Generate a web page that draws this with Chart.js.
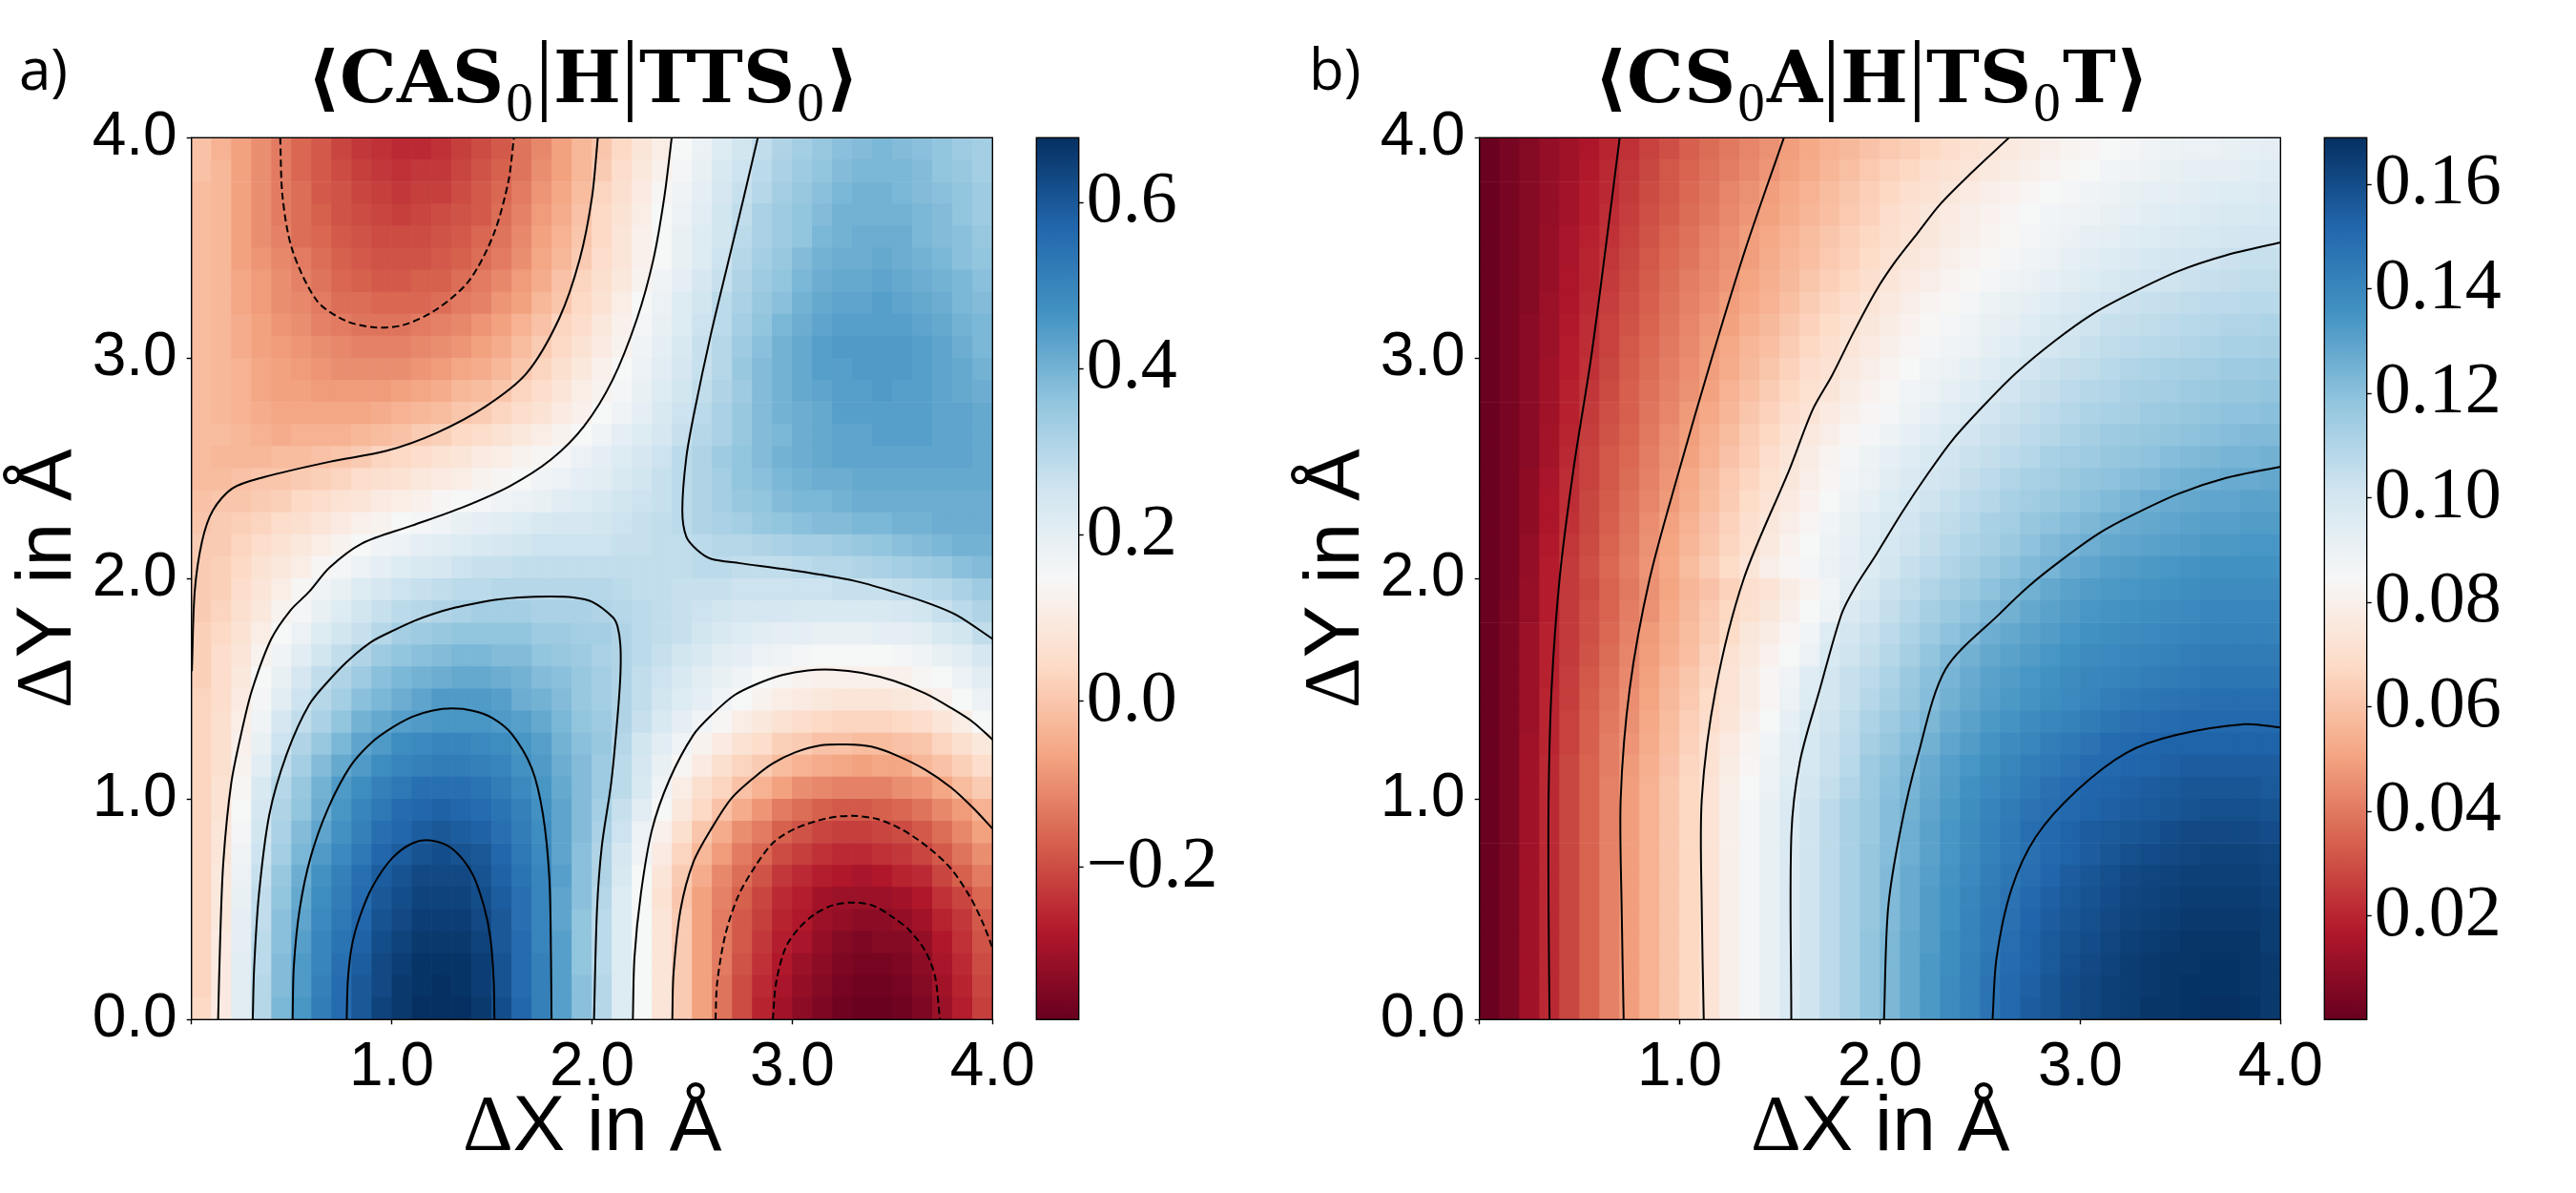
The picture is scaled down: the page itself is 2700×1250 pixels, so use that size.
<!DOCTYPE html>
<html><head><meta charset="utf-8">
<script src="https://cdn.jsdelivr.net/npm/chart.js@4"></script>
<style>
@font-face{font-family:DeltaSerif;src:local("Liberation Serif");unicode-range:U+0394;}
@font-face{font-family:TitleMix;font-weight:bold;src:local("DejaVu Serif Bold");}
@font-face{font-family:TitleMix;font-weight:bold;src:local("Liberation Serif");unicode-range:U+2080;size-adjust:127%;}
@font-face{font-family:TitleMix;font-weight:bold;src:local("Liberation Serif");unicode-range:U+7C;size-adjust:125%;}
@font-face{font-family:TitleMix;font-weight:bold;src:local("DejaVu Sans ExtraLight"),local("DejaVu Sans");unicode-range:U+27E8-27E9;size-adjust:105%;}
html,body{margin:0;padding:0;background:#fff;width:2700px;height:1250px;overflow:hidden}
canvas{position:absolute;top:0}
.tag{position:absolute;font-family:"Open Sans";font-size:60px;line-height:60px;color:#000}
</style></head><body>
<div class="tag" style="left:20px;top:41px">a)</div>
<div class="tag" style="left:1372px;top:41px">b)</div>
<canvas id="a" width="1350" height="1250" style="left:0"></canvas>
<canvas id="ca" width="290" height="1250" style="left:1060px"></canvas>
<canvas id="b" width="1350" height="1250" style="left:1350px"></canvas>
<canvas id="cb" width="290" height="1250" style="left:2410px"></canvas>
<script>
const titleA='⟨CAS₀|H|TTS₀⟩\u2005', titleB='⟨CS₀A|H|TS₀T⟩\u2005';
const xAxisLabel='ΔX in Å', yAxisLabel='ΔY in Å';
const xTickLabels=['','1.0','2.0','3.0','4.0'];
const yTickLabels=['0.0','1.0','2.0','3.0','4.0'];
const cbTicksA=[-0.2,0,0.2,0.4,0.6], cbLabelsA=['−0.2','0.0','0.2','0.4','0.6'];
const cbTicksB=[0.02,0.04,0.06,0.08,0.10,0.12,0.14,0.16], cbLabelsB=['0.02','0.04','0.06','0.08','0.10','0.12','0.14','0.16'];
const rangeA=[-0.383,0.678], rangeB=[0.0002,0.1689];
const RdBu=['#67001f','#b2182b','#d6604d','#f4a582','#fddbc7','#f7f7f7','#d1e5f0','#92c5de','#4393c3','#2166ac','#053061'];
const xCenters=[.05,.15,.25,.35,.45,.55,.65,.75,.85,.95,1.05,1.15,1.25,1.35,1.45,1.55,1.65,1.75,1.85,1.95,2.05,2.15,2.25,2.35,2.45,2.55,2.65,2.75,2.85,2.95,3.05,3.15,3.25,3.35,3.45,3.55,3.65,3.75,3.85,3.95];
const yEdges=[0,.1,.2,.3,.4,.5,.6,.7,.8,.9,1,1.1,1.2,1.3,1.4,1.5,1.6,1.7,1.8,1.9,2,2.1,2.2,2.3,2.4,2.5,2.6,2.7,2.8,2.9,3,3.1,3.2,3.3,3.4,3.5,3.6,3.7,3.8,3.9,4];
// panel a cell values, bottom row first
const gridA=[
[.04,.10,.21,.30,.39,.46,.52,.56,.60,.64,.66,.68,.68,.68,.66,.62,.57,.51,.44,.37,.30,.22,.15,.08,.01,-.07,-.14,-.20,-.26,-.30,-.33,-.35,-.37,-.38,-.38,-.37,-.35,-.31,-.27,-.22],
[.03,.10,.21,.30,.38,.45,.51,.56,.60,.63,.66,.67,.68,.67,.65,.61,.56,.51,.44,.37,.30,.22,.15,.08,.01,-.07,-.14,-.20,-.25,-.29,-.32,-.34,-.36,-.37,-.37,-.36,-.34,-.30,-.26,-.21],
[.03,.10,.21,.29,.38,.45,.50,.55,.59,.63,.65,.67,.67,.67,.65,.61,.56,.51,.44,.36,.29,.22,.15,.08,.01,-.07,-.13,-.19,-.24,-.28,-.31,-.33,-.35,-.36,-.36,-.35,-.33,-.29,-.25,-.20],
[.03,.10,.20,.29,.37,.44,.50,.54,.58,.62,.64,.66,.66,.66,.64,.60,.56,.50,.44,.36,.29,.22,.15,.08,.01,-.07,-.13,-.18,-.23,-.27,-.29,-.32,-.34,-.35,-.34,-.34,-.32,-.28,-.24,-.19],
[.03,.09,.20,.28,.37,.43,.49,.53,.57,.61,.63,.65,.65,.65,.63,.60,.55,.50,.43,.36,.29,.22,.15,.08,.01,-.07,-.13,-.18,-.22,-.26,-.28,-.31,-.32,-.33,-.33,-.32,-.30,-.26,-.23,-.18],
[.03,.09,.19,.28,.36,.42,.48,.52,.56,.60,.62,.64,.64,.64,.62,.59,.55,.50,.43,.37,.30,.22,.15,.07,.00,-.07,-.12,-.17,-.21,-.25,-.27,-.30,-.31,-.31,-.31,-.30,-.28,-.24,-.21,-.16],
[.03,.09,.18,.27,.35,.41,.47,.51,.55,.59,.61,.63,.63,.63,.61,.58,.54,.50,.44,.37,.31,.23,.15,.08,.01,-.05,-.11,-.15,-.19,-.23,-.25,-.27,-.28,-.29,-.28,-.26,-.25,-.21,-.17,-.13],
[.03,.08,.17,.26,.33,.39,.45,.49,.53,.57,.59,.61,.62,.61,.60,.57,.53,.49,.43,.37,.31,.24,.17,.10,.03,-.03,-.08,-.13,-.16,-.20,-.22,-.24,-.25,-.25,-.24,-.23,-.21,-.18,-.14,-.10],
[.03,.08,.16,.25,.32,.38,.43,.47,.51,.55,.57,.59,.60,.59,.58,.55,.52,.48,.43,.38,.32,.26,.18,.12,.06,.00,-.05,-.10,-.13,-.17,-.19,-.21,-.22,-.22,-.21,-.20,-.18,-.15,-.11,-.07],
[.03,.07,.15,.24,.31,.36,.41,.46,.50,.53,.56,.57,.58,.57,.56,.54,.51,.47,.43,.38,.33,.27,.21,.15,.09,.04,-.01,-.05,-.09,-.13,-.15,-.17,-.18,-.18,-.17,-.16,-.14,-.11,-.08,-.04],
[.03,.07,.14,.23,.30,.35,.40,.45,.48,.51,.53,.55,.55,.55,.54,.52,.49,.46,.42,.38,.34,.29,.23,.17,.11,.06,.03,-.01,-.04,-.07,-.10,-.11,-.12,-.12,-.12,-.10,-.09,-.06,-.02,.01],
[.03,.06,.13,.21,.28,.33,.38,.42,.45,.48,.50,.51,.52,.52,.51,.50,.47,.45,.41,.38,.34,.29,.24,.19,.14,.10,.06,.03,.01,-.02,-.04,-.05,-.06,-.07,-.06,-.06,-.03,-.01,.02,.05],
[.03,.06,.12,.19,.26,.31,.35,.39,.43,.45,.48,.49,.50,.50,.49,.48,.46,.44,.40,.37,.35,.30,.25,.21,.17,.13,.10,.07,.05,.02,.01,-.01,-.01,-.02,-.02,-.01,.00,.03,.06,.09],
[.03,.06,.11,.17,.24,.28,.32,.36,.40,.42,.44,.45,.46,.46,.46,.45,.44,.42,.39,.36,.34,.31,.27,.23,.20,.17,.14,.11,.09,.07,.05,.04,.03,.03,.03,.04,.05,.08,.11,.15],
[.03,.05,.10,.16,.21,.26,.30,.33,.37,.39,.41,.43,.45,.45,.45,.44,.41,.40,.38,.35,.33,.31,.28,.25,.22,.20,.17,.15,.13,.11,.10,.09,.08,.08,.08,.09,.10,.12,.15,.18],
[.02,.05,.09,.15,.19,.24,.28,.31,.34,.37,.39,.40,.41,.42,.42,.41,.40,.38,.37,.35,.33,.31,.28,.26,.23,.21,.19,.17,.15,.14,.13,.12,.12,.12,.12,.12,.14,.15,.18,.21],
[.02,.05,.08,.13,.17,.21,.25,.28,.31,.34,.36,.37,.38,.39,.39,.38,.38,.36,.35,.34,.32,.31,.29,.27,.25,.23,.21,.20,.18,.17,.16,.15,.15,.15,.15,.16,.17,.19,.21,.24],
[.02,.04,.07,.11,.15,.18,.22,.25,.27,.30,.33,.34,.35,.36,.36,.36,.36,.34,.34,.33,.33,.31,.29,.28,.27,.25,.23,.22,.21,.20,.20,.19,.19,.19,.20,.20,.21,.23,.25,.28],
[.01,.03,.06,.09,.13,.16,.19,.22,.25,.27,.29,.30,.31,.32,.33,.33,.33,.32,.32,.32,.31,.30,.29,.28,.27,.26,.25,.24,.24,.24,.23,.23,.23,.23,.23,.24,.25,.27,.29,.31],
[.01,.02,.05,.08,.11,.14,.17,.19,.22,.24,.26,.27,.28,.29,.29,.30,.30,.30,.30,.30,.30,.29,.28,.28,.27,.27,.27,.26,.26,.26,.26,.26,.27,.27,.27,.28,.29,.30,.32,.34],
[.01,.02,.04,.07,.09,.11,.14,.16,.18,.20,.22,.23,.24,.26,.27,.27,.28,.28,.28,.28,.28,.28,.28,.28,.28,.29,.29,.28,.28,.28,.29,.30,.30,.31,.32,.33,.34,.35,.37,.38],
[.01,.01,.03,.05,.07,.09,.11,.13,.15,.17,.18,.20,.21,.22,.23,.24,.25,.26,.26,.26,.26,.27,.27,.28,.28,.29,.30,.30,.31,.32,.33,.33,.34,.35,.36,.37,.38,.39,.40,.40],
[.00,.01,.02,.03,.05,.06,.08,.10,.12,.13,.15,.16,.17,.19,.20,.21,.22,.23,.24,.24,.25,.26,.27,.28,.29,.31,.32,.33,.35,.36,.37,.38,.38,.39,.39,.40,.40,.41,.41,.41],
[-.01,.00,.00,.01,.02,.04,.05,.07,.08,.10,.11,.12,.14,.15,.16,.17,.18,.19,.21,.22,.23,.25,.26,.27,.29,.31,.33,.35,.36,.38,.39,.39,.40,.41,.41,.41,.41,.41,.41,.41],
[-.02,-.02,-.01,.00,.00,.01,.02,.03,.05,.06,.07,.09,.10,.11,.13,.14,.15,.17,.18,.20,.21,.23,.25,.27,.29,.31,.33,.36,.37,.39,.40,.41,.41,.42,.42,.42,.42,.42,.42,.42],
[-.02,-.03,-.03,-.03,-.02,-.02,-.01,.00,.01,.03,.04,.05,.07,.08,.10,.11,.13,.14,.16,.18,.20,.22,.24,.26,.29,.31,.34,.36,.38,.40,.41,.42,.43,.43,.43,.43,.43,.43,.43,.42],
[-.02,-.02,-.03,-.04,-.05,-.04,-.04,-.04,-.03,-.02,-.01,.01,.02,.04,.05,.07,.09,.11,.13,.15,.17,.20,.22,.24,.27,.30,.32,.35,.38,.39,.41,.42,.43,.43,.44,.44,.44,.43,.43,.42],
[-.02,-.03,-.04,-.05,-.06,-.06,-.06,-.06,-.06,-.05,-.04,-.03,-.02,.00,.01,.03,.05,.07,.10,.12,.15,.17,.20,.23,.26,.29,.32,.35,.38,.40,.41,.42,.44,.44,.44,.44,.44,.43,.43,.42],
[-.02,-.03,-.04,-.06,-.07,-.07,-.08,-.08,-.08,-.08,-.07,-.06,-.05,-.03,-.02,.00,.03,.05,.08,.11,.13,.16,.19,.22,.25,.28,.31,.34,.38,.40,.42,.43,.44,.44,.45,.44,.44,.43,.42,.41],
[-.02,-.03,-.04,-.06,-.07,-.08,-.09,-.10,-.10,-.10,-.10,-.09,-.08,-.06,-.05,-.03,.00,.03,.06,.09,.12,.15,.18,.21,.24,.27,.30,.35,.38,.40,.42,.44,.44,.45,.45,.45,.44,.43,.42,.40],
[-.02,-.03,-.05,-.07,-.08,-.09,-.10,-.11,-.12,-.12,-.12,-.11,-.10,-.09,-.07,-.05,-.02,.01,.04,.07,.10,.13,.17,.20,.23,.27,.30,.34,.37,.40,.42,.44,.45,.45,.45,.45,.44,.43,.41,.39],
[-.02,-.03,-.05,-.07,-.09,-.10,-.12,-.13,-.14,-.14,-.14,-.13,-.12,-.11,-.09,-.07,-.04,-.01,.03,.05,.09,.12,.16,.19,.22,.26,.29,.33,.36,.39,.41,.43,.44,.44,.44,.44,.43,.42,.40,.39],
[-.02,-.03,-.06,-.08,-.10,-.11,-.13,-.15,-.15,-.16,-.16,-.16,-.15,-.13,-.12,-.09,-.07,-.03,.00,.04,.07,.11,.15,.18,.22,.25,.29,.32,.35,.37,.40,.42,.43,.43,.44,.43,.42,.41,.39,.38],
[-.02,-.03,-.06,-.08,-.10,-.12,-.14,-.16,-.17,-.18,-.18,-.17,-.17,-.15,-.13,-.11,-.08,-.05,-.01,.03,.06,.09,.13,.17,.20,.24,.27,.31,.34,.36,.39,.41,.42,.42,.43,.42,.41,.40,.39,.37],
[-.02,-.03,-.07,-.09,-.11,-.13,-.15,-.17,-.18,-.19,-.19,-.19,-.18,-.17,-.15,-.13,-.10,-.06,-.03,.01,.05,.08,.12,.15,.19,.22,.26,.30,.33,.35,.38,.40,.41,.41,.42,.41,.40,.39,.37,.36],
[-.02,-.03,-.07,-.10,-.12,-.15,-.16,-.18,-.19,-.20,-.20,-.20,-.19,-.18,-.16,-.14,-.11,-.07,-.04,.00,.04,.08,.12,.15,.19,.22,.25,.29,.32,.34,.36,.39,.40,.41,.41,.41,.39,.38,.37,.35],
[-.02,-.03,-.07,-.10,-.13,-.15,-.17,-.19,-.20,-.21,-.22,-.21,-.20,-.19,-.18,-.15,-.12,-.08,-.05,-.01,.04,.07,.11,.15,.18,.21,.25,.28,.32,.34,.36,.38,.40,.40,.40,.40,.39,.38,.36,.34],
[-.02,-.03,-.07,-.10,-.13,-.15,-.18,-.19,-.21,-.22,-.23,-.22,-.22,-.20,-.18,-.16,-.13,-.09,-.06,-.02,.03,.06,.10,.14,.17,.20,.24,.27,.30,.33,.35,.37,.39,.40,.40,.39,.38,.37,.36,.34],
[-.01,-.03,-.07,-.10,-.13,-.16,-.18,-.20,-.22,-.23,-.24,-.23,-.23,-.21,-.19,-.17,-.14,-.10,-.07,-.03,.01,.05,.09,.12,.16,.19,.23,.26,.29,.32,.34,.36,.38,.39,.39,.39,.38,.36,.35,.33],
[-.01,-.04,-.07,-.10,-.13,-.16,-.18,-.21,-.23,-.24,-.25,-.25,-.24,-.22,-.20,-.18,-.14,-.11,-.07,-.03,.00,.04,.08,.11,.15,.18,.22,.25,.28,.31,.33,.35,.37,.38,.39,.38,.37,.36,.34,.33]
];
// panel b cell values, bottom row first
const gridB=[
[.001,.005,.013,.021,.028,.035,.042,.049,.055,.061,.067,.073,.080,.086,.091,.097,.102,.107,.112,.118,.123,.128,.133,.138,.142,.147,.151,.155,.157,.160,.162,.164,.165,.167,.167,.168,.169,.169,.168,.166],
[.001,.005,.013,.021,.028,.035,.042,.049,.055,.061,.067,.073,.080,.086,.091,.097,.102,.107,.112,.118,.123,.128,.133,.138,.142,.147,.151,.154,.157,.160,.162,.164,.165,.166,.167,.168,.168,.168,.167,.166],
[.001,.005,.013,.021,.028,.035,.042,.049,.055,.061,.067,.073,.080,.086,.091,.097,.102,.107,.112,.118,.123,.128,.133,.137,.142,.146,.150,.153,.156,.159,.161,.163,.165,.166,.167,.167,.168,.168,.167,.166],
[.001,.005,.013,.021,.028,.035,.042,.049,.055,.061,.067,.073,.080,.086,.091,.097,.102,.107,.112,.118,.123,.128,.132,.137,.141,.145,.149,.153,.156,.158,.160,.162,.164,.165,.166,.167,.167,.167,.167,.165],
[.001,.005,.013,.021,.028,.035,.042,.049,.055,.061,.067,.073,.080,.086,.091,.097,.102,.107,.112,.117,.122,.127,.132,.136,.141,.145,.148,.152,.155,.157,.159,.161,.163,.164,.165,.166,.166,.166,.166,.165],
[.001,.005,.013,.021,.028,.035,.042,.049,.055,.061,.067,.073,.080,.086,.091,.097,.102,.107,.112,.117,.122,.127,.132,.136,.140,.144,.147,.151,.154,.156,.158,.160,.162,.163,.164,.165,.165,.165,.165,.164],
[.001,.005,.013,.021,.028,.035,.042,.049,.055,.061,.067,.073,.080,.086,.091,.097,.102,.107,.112,.117,.122,.127,.131,.135,.139,.143,.146,.149,.152,.155,.157,.159,.161,.162,.163,.164,.164,.164,.164,.163],
[.001,.005,.013,.021,.028,.035,.042,.049,.055,.061,.067,.073,.080,.086,.091,.097,.102,.107,.112,.117,.121,.126,.130,.134,.138,.142,.145,.148,.151,.153,.155,.157,.159,.160,.161,.162,.163,.163,.163,.162],
[.001,.005,.013,.021,.028,.035,.042,.049,.055,.061,.067,.073,.080,.086,.091,.097,.102,.107,.112,.116,.121,.126,.130,.134,.138,.142,.145,.149,.151,.153,.155,.156,.157,.158,.160,.161,.161,.161,.161,.160],
[.001,.005,.013,.021,.028,.035,.042,.049,.055,.061,.067,.073,.080,.086,.091,.097,.102,.107,.112,.116,.121,.125,.129,.133,.137,.141,.144,.147,.149,.151,.153,.154,.155,.156,.157,.158,.159,.159,.159,.158],
[.001,.005,.013,.021,.028,.035,.042,.049,.055,.061,.067,.073,.079,.085,.090,.096,.100,.105,.110,.115,.120,.124,.128,.132,.136,.139,.142,.145,.148,.150,.152,.153,.154,.155,.156,.157,.157,.157,.157,.156],
[.001,.005,.013,.021,.028,.035,.041,.048,.054,.060,.066,.072,.078,.083,.089,.094,.099,.103,.108,.115,.119,.123,.127,.131,.134,.137,.140,.143,.145,.147,.150,.151,.152,.153,.154,.155,.155,.155,.155,.155],
[.001,.005,.013,.020,.027,.034,.041,.047,.053,.059,.065,.072,.077,.082,.087,.094,.099,.103,.107,.113,.117,.121,.125,.129,.132,.135,.138,.140,.143,.145,.147,.150,.151,.152,.153,.153,.153,.153,.153,.153],
[.001,.005,.012,.020,.027,.034,.040,.046,.052,.058,.064,.069,.074,.080,.085,.092,.098,.102,.106,.111,.115,.119,.123,.127,.130,.133,.135,.138,.140,.142,.144,.146,.148,.149,.150,.151,.151,.151,.151,.151],
[.001,.005,.012,.020,.026,.033,.039,.045,.051,.057,.062,.068,.073,.078,.083,.090,.096,.100,.104,.109,.113,.117,.121,.125,.128,.131,.133,.135,.137,.139,.141,.143,.145,.146,.147,.148,.149,.149,.149,.149],
[.001,.005,.012,.019,.026,.032,.038,.044,.050,.056,.061,.066,.073,.078,.083,.088,.095,.100,.104,.107,.111,.116,.120,.124,.127,.130,.132,.134,.136,.138,.140,.141,.142,.143,.144,.145,.146,.146,.146,.146],
[.001,.005,.012,.019,.025,.031,.037,.043,.049,.054,.059,.065,.072,.076,.081,.085,.090,.098,.102,.105,.109,.113,.118,.122,.125,.128,.130,.132,.134,.136,.138,.139,.140,.141,.142,.143,.144,.144,.144,.144],
[.001,.005,.012,.019,.025,.030,.036,.042,.048,.053,.058,.063,.068,.075,.078,.083,.087,.096,.100,.103,.107,.111,.115,.119,.122,.126,.128,.130,.132,.134,.136,.137,.138,.139,.140,.141,.142,.142,.142,.142],
[.001,.005,.011,.018,.025,.030,.035,.041,.046,.052,.057,.062,.067,.071,.075,.080,.085,.089,.097,.101,.105,.109,.113,.116,.119,.122,.125,.128,.130,.132,.134,.135,.136,.137,.138,.139,.140,.140,.140,.140],
[.001,.004,.011,.018,.025,.029,.035,.040,.046,.051,.056,.060,.065,.070,.073,.078,.082,.087,.094,.098,.103,.106,.110,.113,.116,.119,.122,.125,.128,.130,.132,.133,.134,.135,.136,.137,.138,.138,.138,.138],
[.001,.004,.010,.018,.025,.030,.036,.041,.047,.052,.058,.063,.068,.074,.079,.083,.086,.090,.093,.096,.100,.104,.107,.110,.113,.116,.119,.122,.124,.127,.129,.131,.132,.133,.134,.135,.136,.136,.136,.136],
[.001,.004,.010,.017,.024,.029,.035,.040,.046,.051,.056,.061,.066,.071,.076,.081,.085,.089,.092,.096,.099,.102,.105,.108,.111,.113,.116,.119,.122,.124,.126,.128,.129,.130,.131,.132,.133,.133,.134,.134],
[.001,.004,.009,.016,.023,.028,.034,.039,.045,.050,.055,.060,.065,.070,.075,.079,.083,.087,.091,.095,.098,.101,.104,.106,.109,.112,.114,.117,.119,.121,.123,.125,.127,.128,.129,.130,.131,.131,.132,.132],
[.001,.004,.009,.016,.022,.028,.033,.038,.043,.048,.053,.058,.063,.068,.073,.077,.081,.085,.089,.092,.096,.099,.102,.104,.107,.109,.112,.114,.116,.118,.120,.122,.124,.126,.127,.128,.129,.129,.130,.130],
[.001,.004,.009,.015,.022,.027,.032,.037,.042,.047,.052,.057,.062,.066,.071,.075,.079,.083,.087,.090,.094,.097,.100,.102,.105,.107,.110,.112,.114,.116,.118,.119,.121,.122,.124,.125,.126,.127,.127,.128],
[.001,.004,.008,.014,.021,.027,.032,.036,.041,.046,.050,.055,.060,.064,.069,.074,.078,.082,.086,.089,.092,.095,.098,.101,.103,.105,.107,.109,.112,.114,.115,.117,.118,.119,.121,.122,.123,.124,.124,.125],
[.001,.004,.008,.014,.020,.026,.031,.035,.040,.045,.049,.054,.058,.063,.067,.072,.076,.079,.083,.086,.089,.092,.095,.098,.101,.103,.105,.107,.109,.111,.113,.115,.116,.117,.118,.119,.120,.121,.122,.122],
[.001,.004,.008,.013,.019,.025,.030,.034,.039,.043,.048,.052,.056,.061,.065,.069,.073,.077,.080,.083,.086,.089,.092,.095,.098,.101,.103,.105,.107,.109,.111,.112,.113,.115,.116,.117,.118,.119,.119,.120],
[.001,.004,.008,.013,.019,.024,.029,.034,.038,.042,.046,.050,.055,.059,.063,.067,.071,.074,.078,.081,.084,.087,.090,.092,.095,.098,.101,.103,.105,.107,.109,.110,.112,.113,.114,.115,.116,.117,.117,.118],
[.001,.004,.008,.013,.018,.023,.028,.033,.037,.041,.045,.049,.053,.057,.061,.065,.069,.072,.076,.079,.082,.085,.088,.090,.093,.095,.098,.101,.103,.105,.106,.108,.110,.111,.112,.113,.114,.115,.115,.116],
[.001,.004,.008,.012,.018,.022,.027,.032,.036,.040,.044,.048,.052,.056,.059,.063,.067,.070,.074,.077,.080,.083,.086,.088,.090,.093,.095,.098,.100,.102,.104,.106,.107,.108,.109,.110,.111,.112,.112,.113],
[.001,.004,.008,.012,.017,.022,.027,.031,.035,.039,.043,.047,.050,.054,.057,.061,.065,.068,.072,.075,.078,.081,.084,.086,.088,.091,.093,.095,.098,.100,.102,.104,.105,.106,.107,.108,.109,.110,.110,.111],
[.001,.004,.007,.012,.016,.021,.026,.030,.034,.038,.042,.045,.049,.052,.055,.059,.063,.066,.069,.073,.076,.079,.082,.084,.086,.089,.091,.093,.095,.097,.099,.101,.103,.104,.105,.106,.107,.107,.108,.108],
[.001,.004,.007,.011,.016,.020,.025,.029,.033,.037,.041,.044,.047,.051,.054,.057,.061,.064,.067,.070,.074,.077,.079,.082,.084,.086,.088,.090,.092,.094,.096,.098,.100,.101,.102,.103,.104,.105,.106,.106],
[.001,.004,.007,.011,.015,.020,.024,.028,.032,.036,.039,.043,.046,.049,.053,.056,.059,.062,.065,.068,.072,.075,.077,.080,.082,.084,.086,.088,.090,.092,.094,.096,.097,.099,.100,.101,.102,.103,.104,.104],
[.001,.004,.007,.011,.015,.019,.023,.027,.031,.035,.038,.042,.045,.049,.052,.055,.058,.061,.064,.067,.070,.073,.075,.078,.080,.082,.084,.086,.088,.090,.092,.093,.095,.096,.097,.098,.099,.100,.101,.101],
[.001,.004,.007,.010,.014,.018,.022,.026,.030,.033,.037,.040,.044,.047,.050,.053,.056,.059,.062,.065,.069,.072,.075,.077,.079,.081,.083,.085,.087,.088,.089,.091,.092,.094,.095,.096,.097,.098,.098,.099],
[.001,.004,.007,.010,.014,.018,.021,.025,.029,.032,.036,.039,.043,.046,.049,.052,.055,.058,.061,.064,.067,.070,.072,.075,.077,.079,.081,.083,.085,.086,.088,.089,.091,.092,.093,.094,.095,.096,.096,.097],
[.001,.004,.007,.010,.013,.017,.021,.024,.028,.032,.035,.038,.041,.044,.047,.050,.053,.056,.059,.062,.065,.067,.070,.072,.074,.076,.078,.080,.082,.084,.085,.087,.088,.089,.091,.092,.093,.093,.094,.095],
[.001,.004,.007,.010,.013,.016,.020,.023,.027,.030,.034,.037,.040,.043,.046,.049,.052,.055,.057,.060,.062,.064,.067,.069,.072,.074,.076,.078,.080,.082,.083,.085,.086,.088,.089,.090,.090,.091,.092,.093]
];
// contour lines as [x, y] in axis units
const contoursA=[
{dash:true,pts:[[.443,4],[.455,3.73],[.504,3.49],[.627,3.26],[.77,3.17],[.914,3.14],[1.057,3.15],[1.221,3.22],[1.385,3.35],[1.508,3.56],[1.582,3.8],[1.61,4]]},
{dash:false,pts:[[.002,1.58],[.016,1.94],[.053,2.17],[.107,2.31],[.205,2.41],[.36,2.46],[.689,2.53],[.975,2.58],[1.221,2.66],[1.467,2.78],[1.672,2.93],[1.836,3.18],[1.939,3.45],[2,3.73],[2.029,4]]},
{dash:false,pts:[[.133,0],[.143,.354],[.159,.714],[.199,1.075],[.254,1.32],[.302,1.494],[.397,1.724],[.492,1.854],[.588,1.941],[.689,2.05],[.852,2.16],[1.098,2.24],[1.344,2.32],[1.59,2.42],[1.795,2.54],[1.959,2.69],[2.102,2.9],[2.225,3.18],[2.307,3.45],[2.361,3.73],[2.398,4]]},
{dash:false,pts:[[2.828,4],[2.758,3.73],[2.676,3.42],[2.594,3.11],[2.512,2.76],[2.471,2.55],[2.451,2.31],[2.471,2.19],[2.525,2.13],[2.594,2.09],[2.738,2.07],[2.984,2.04],[3.311,1.99],[3.506,1.94],[3.697,1.883],[3.824,1.833],[4,1.727]]},
{dash:false,pts:[[.306,0],[.313,.238],[.337,.57],[.389,.931],[.476,1.205],[.588,1.429],[.699,1.551],[.794,1.638],[.905,1.717],[1.016,1.768],[1.112,1.808],[1.207,1.84],[1.318,1.869],[1.429,1.89],[1.525,1.905],[1.636,1.915],[1.794,1.919],[1.906,1.915],[2.001,1.895],[2.104,1.825],[2.128,1.782],[2.142,1.696],[2.142,1.566],[2.128,1.378],[2.096,1.075],[2.049,.786],[2.025,.498],[2.01,0]]},
{dash:false,pts:[[.505,0],[.511,.24],[.54,.5],[.596,.74],[.683,.96],[.794,1.15],[.897,1.255],[1,1.323],[1.104,1.374],[1.199,1.401],[1.302,1.411],[1.405,1.401],[1.501,1.369],[1.596,1.299],[1.699,1.14],[1.755,.931],[1.787,.642],[1.795,.3],[1.798,0]]},
{dash:false,pts:[[.775,0],[.781,.18],[.802,.34],[.842,.47],[.902,.6],[1,.73],[1.104,.8],[1.199,.812],[1.302,.775],[1.401,.664],[1.461,.512],[1.493,.368],[1.509,.18],[1.513,0]]},
{dash:false,pts:[[2.204,0],[2.212,.281],[2.244,.57],[2.299,.859],[2.387,1.089],[2.506,1.291],[2.601,1.385],[2.712,1.472],[2.823,1.522],[2.95,1.563],[3.078,1.584],[3.205,1.587],[3.347,1.573],[3.506,1.537],[3.665,1.479],[3.792,1.414],[3.903,1.349],[4,1.27]]},
{dash:false,pts:[[2.401,0],[2.407,.209],[2.442,.498],[2.506,.714],[2.601,.873],[2.696,1.003],[2.808,1.097],[2.903,1.162],[3.014,1.212],[3.141,1.244],[3.268,1.248],[3.395,1.238],[3.522,1.198],[3.665,1.133],[3.792,1.053],[3.903,.96],[4,.866]]},
{dash:true,pts:[[2.617,0],[2.625,.166],[2.665,.382],[2.728,.556],[2.808,.685],[2.903,.801],[3.014,.866],[3.173,.913],[3.3,.924],[3.427,.909],[3.554,.859],[3.681,.779],[3.792,.685],[3.888,.556],[3.951,.44],[4,.325]]},
{dash:true,pts:[[2.903,0],[2.919,.166],[2.966,.325],[3.03,.411],[3.109,.476],[3.204,.519],[3.308,.531],[3.403,.517],[3.506,.462],[3.586,.404],[3.665,.31],[3.713,.195],[3.737,0]]}
];
const contoursB=[
{dash:false,pts:[[.35,0],[.345,.5],[.345,1],[.36,1.5],[.4,2],[.47,2.5],[.557,3],[.63,3.5],[.7,4]]},
{dash:false,pts:[[.72,0],[.71,.5],[.705,1],[.75,1.5],[.85,2],[1,2.5],[1.16,3],[1.33,3.5],[1.52,4]]},
{dash:false,pts:[[1.12,0],[1.11,.5],[1.11,1],[1.18,1.5],[1.32,2],[1.55,2.5],[1.664,2.767],[1.759,2.919],[1.87,3.121],[1.982,3.309],[2.077,3.439],[2.188,3.568],[2.3,3.698],[2.458,3.842],[2.644,4]]},
{dash:false,pts:[[1.557,0],[1.557,.83],[1.6,1.17],[1.7,1.5],[1.807,1.837],[1.87,1.952],[1.982,2.111],[2.109,2.299],[2.236,2.472],[2.363,2.63],[2.522,2.789],[2.68,2.933],[2.871,3.077],[3.061,3.2],[3.252,3.294],[3.49,3.395],[3.728,3.467],[4,3.525]]},
{dash:false,pts:[[2.02,0],[2.04,.5],[2.1,.85],[2.19,1.2],[2.328,1.59],[2.601,1.844],[2.744,1.967],[2.903,2.082],[3.093,2.205],[3.252,2.284],[3.49,2.385],[3.728,2.457],[4,2.508]]},
{dash:false,pts:[[2.562,0],[2.582,.28],[2.656,.59],[2.779,.83],[2.984,1.04],[3.23,1.21],[3.475,1.29],[3.824,1.34],[4,1.325]]}
];

const SANS='DeltaSerif,"Liberation Sans"', SERIF='"Liberation Serif"', TITLEFONT='TitleMix,"DejaVu Serif"';
const PLOT_TOP=144.3, PLOT_BOTTOM=181.7, PLOT_LEFT=200.7, PLOT_RIGHT=309.7;
const hex=h=>[1,3,5].map(i=>parseInt(h.substr(i,2),16));
function cmap(t){t=Math.max(0,Math.min(1,t))*10;const i=Math.min(9,Math.floor(t)),f=t-i,a=hex(RdBu[i]),b=hex(RdBu[i+1]);
  return 'rgb('+a.map((v,k)=>Math.round(v+(b[k]-v)*f)).join(',')+')';}
const frame={id:'frame',afterDraw(c){const g=c.ctx,a=c.chartArea;g.save();g.strokeStyle='#000';g.lineWidth=1.4;g.strokeRect(a.left,a.top,a.right-a.left,a.bottom-a.top);g.restore();}};
function heat(id,grid,contours,range,title){
  grid.forEach((r,i)=>{if(r.length!==40)throw new Error(id+' row '+i+' has '+r.length);});
  if(grid.length!==40)throw new Error('rows '+grid.length);
  const datasets=[];
  contours.forEach(c=>datasets.push({type:'scatter',showLine:true,data:c.pts.map(p=>({x:p[0],y:p[1]})),borderColor:'#000',borderWidth:2,borderDash:c.dash?[7.5,4]:[],pointRadius:0,tension:.3,order:0,fill:false}));
  grid.forEach((row,j)=>datasets.push({type:'bar',grouped:false,barPercentage:1,categoryPercentage:1,order:1,borderWidth:0,
    data:row.map((v,i)=>({x:xCenters[i],y:[yEdges[j],yEdges[j+1]]})),
    backgroundColor:row.map(v=>cmap((v-range[0])/(range[1]-range[0])))}));
  new Chart(document.getElementById(id),{type:'bar',data:{datasets},plugins:[frame],options:{
    responsive:false,animation:false,devicePixelRatio:1,events:[],
    layout:{padding:{right:PLOT_RIGHT}},
    plugins:{legend:{display:false},tooltip:{enabled:false},
      title:{display:true,text:title,fullSize:false,font:{family:TITLEFONT,size:75,weight:'bold',lineHeight:1},color:'#000',padding:{top:50.2,bottom:19.1}}},
    scales:{
      x:{type:'linear',offset:false,min:0,max:4,afterBuildTicks(s){s.ticks=[0,1,2,3,4].map(v=>({value:v}));},
        afterFit(s){s.height=PLOT_BOTTOM;},
        grid:{offset:false,drawOnChartArea:false,drawTicks:true,tickLength:5,tickWidth:1.4,color:'#000'},border:{display:false},
        ticks:{autoSkip:false,maxRotation:0,padding:8,color:'#000',font:{family:SANS,size:64},callback:(v,i)=>xTickLabels[i]},
        title:{display:true,text:xAxisLabel,color:'#000',font:{family:SANS,size:82},padding:{top:0,bottom:18}}},
      y:{type:'linear',min:0,max:4,afterBuildTicks(s){s.ticks=[0,1,2,3,4].map(v=>({value:v}));},
        afterFit(s){s.width=PLOT_LEFT;},
        grid:{drawOnChartArea:false,drawTicks:true,tickLength:5,tickWidth:1.4,color:'#000'},border:{display:false},
        ticks:{autoSkip:false,padding:10,color:'#000',font:{family:SANS,size:64},callback:(v,i)=>yTickLabels[i]},
        title:{display:true,text:yAxisLabel,color:'#000',font:{family:SANS,size:82},padding:{top:2,bottom:0}}}
    }}});
}
function bar(id,range,tickVals,tickLabels){
  new Chart(document.getElementById(id),{type:'bar',plugins:[frame],
    data:{labels:['cb'],datasets:[{data:[range],barPercentage:1,categoryPercentage:1,borderWidth:0,
      backgroundColor(ctx){const a=ctx.chart.chartArea;if(!a)return '#fff';const g=ctx.chart.ctx.createLinearGradient(0,a.bottom,0,a.top);RdBu.forEach((c,i)=>g.addColorStop(i/10,c));return g;}}]},
    options:{responsive:false,animation:false,devicePixelRatio:1,events:[],
      layout:{padding:{left:26.3,top:PLOT_TOP,bottom:PLOT_BOTTOM}},
      plugins:{legend:{display:false},tooltip:{enabled:false}},
      scales:{x:{display:false},
        y:{type:'linear',position:'right',min:range[0],max:range[1],afterBuildTicks(s){s.ticks=tickVals.map(v=>({value:v}));},
          afterFit(s){s.width=219.3;},
          grid:{drawOnChartArea:false,drawTicks:true,tickLength:5,tickWidth:1.4,color:'#000'},border:{display:false},
          ticks:{autoSkip:false,padding:3,crossAlign:'near',color:'#000',font:{family:SERIF,size:76},callback:(v,i)=>tickLabels[i]}}}}});
}
Promise.all([document.fonts.load('79px DeltaSerif','Δ'),document.fonts.load('60px "Open Sans"','a'),document.fonts.load('bold 75px TitleMix','⟨C₀|H⟩')]).catch(()=>{}).then(()=>{
  heat('a',gridA,contoursA,rangeA,titleA);
  heat('b',gridB,contoursB,rangeB,titleB);
  bar('ca',rangeA,cbTicksA,cbLabelsA);
  bar('cb',rangeB,cbTicksB,cbLabelsB);
});
</script></body></html>
